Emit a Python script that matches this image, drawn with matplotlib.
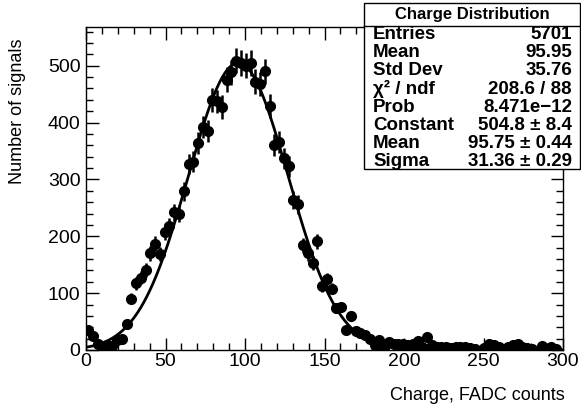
import matplotlib
matplotlib.use('Agg')
import matplotlib.pyplot as plt
import numpy as np
from matplotlib.ticker import MultipleLocator
from matplotlib.patches import Rectangle
from matplotlib.lines import Line2D

plt.rcParams['font.family'] = ['Liberation Sans', 'DejaVu Sans']

# histogram: 100 bins of width 3 over 0..300
bin_width = 3
n_bins = 100
counts = [35, 25, 10, 5, 9, 7, 17, 19, 45, 90,
          117, 127, 141, 170, 187, 169, 208, 218, 242, 240,
          279, 327, 331, 364, 392, 385, 440, 437, 427, 475,
          488, 509, 505, 500, 505, 472, 468, 490, 429, 360,
          366, 337, 323, 264, 256, 184, 170, 153, 191, 112,
          125, 108, 74, 76, 36, 59, 33, 30, 26, 19,
          8, 18, 3, 14, 11, 11, 10, 9, 11, 16,
          6, 23, 8, 6, 5, 6, 4, 5, 5, 6,
          3, 1, 0, 3, 10, 8, 6, 2, 5, 8,
          11, 6, 4, 1, 0, 7, 2, 5, 1, 0]

# gaussian fit results
fit_const = 504.8
fit_mean = 95.75
fit_sigma = 31.36

stats_labels = ['Entries', 'Mean', 'Std Dev', '\u03c7\u00b2 / ndf', 'Prob',
                'Constant', 'Mean', 'Sigma']
stats_values = ['5701', '95.95', '35.76', '208.6 / 88', '8.471e\u221212',
                '504.8 \u00b1 8.4', '95.75 \u00b1 0.44', '31.36 \u00b1 0.29']

W, H = 581, 407
fig = plt.figure(figsize=(W / 100, H / 100), dpi=100)
ax = fig.add_axes([86 / W, 1 - 350 / H, 477 / W, 323 / H])

counts = np.array(counts, dtype=float)
centers = (np.arange(n_bins) + 0.5) * bin_width
mask = counts > 0
ax.errorbar(centers[mask], counts[mask], yerr=np.sqrt(counts[mask]),
            fmt='o', color='black', ms=7, elinewidth=1.8, capsize=0)

xf = np.linspace(0, 300, 600)
ax.plot(xf, fit_const * np.exp(-0.5 * ((xf - fit_mean) / fit_sigma) ** 2),
        color='black', lw=2)

ax.set_xlim(0, 300)
ax.set_ylim(0, 568)
ax.xaxis.set_major_locator(MultipleLocator(50))
ax.xaxis.set_minor_locator(MultipleLocator(10))
ax.yaxis.set_major_locator(MultipleLocator(100))
ax.yaxis.set_minor_locator(MultipleLocator(20))
ax.tick_params(which='both', direction='in', top=True, right=True,
               labelsize=14, width=1)
ax.tick_params(which='major', length=9)
ax.tick_params(which='minor', length=5)
ax.tick_params(axis='x', pad=2)
ax.tick_params(axis='y', pad=4)
for s in ax.spines.values():
    s.set_linewidth(1)

fig.text(565 / W, 1 - 395 / H, 'Charge, FADC counts', ha='right',
         va='center', fontsize=13)
fig.text(18 / W, 1 - 38 / H, 'Number of signals', ha='center', va='top',
         rotation=90, fontsize=13)

# stats box
x0, x1 = 364 / W, 580 / W
y0, y1 = 1 - 169 / H, 1 - 3 / H
fig.patches.append(Rectangle((x0, y0), x1 - x0, y1 - y0, transform=fig.transFigure,
                             facecolor='white', edgecolor='black', lw=1, zorder=5))
fig.lines.append(Line2D([x0, x1], [1 - 26 / H, 1 - 26 / H],
                        transform=fig.transFigure, color='black', lw=1, zorder=6))
fig.text((x0 + x1) / 2, 1 - 15 / H, 'Charge Distribution', ha='center',
         va='center', fontsize=12, fontweight='bold', zorder=7)
for i, (lab, val) in enumerate(zip(stats_labels, stats_values)):
    yy = 1 - (34.5 + 18.2 * i) / H
    fig.text(373 / W, yy, lab, ha='left', va='center', fontsize=13.5,
             fontweight='bold', zorder=7)
    fig.text(572 / W, yy, val, ha='right', va='center', fontsize=13.5,
             fontweight='bold', zorder=7)

fig.savefig('out.png', dpi=100)
